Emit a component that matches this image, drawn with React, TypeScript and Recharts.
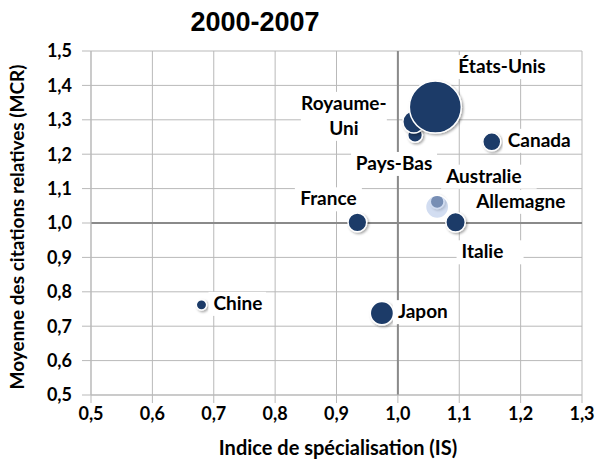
import React from "react";
import {
  ScatterChart, Scatter, XAxis, YAxis, ZAxis, CartesianGrid, ReferenceLine,
} from "recharts";

// drawing order: the big US bubble sits on top of UK / NL, Germany on top of Australia
const countries = ["Pays-Bas", "Royaume-Uni", "États-Unis", "Canada", "Australie", "Allemagne", "Italie", "France", "Chine", "Japon"];
const specialisation = [1.028, 1.026, 1.061, 1.153, 1.064, 1.064, 1.094, 0.934, 0.680, 0.974];
const citations = [1.256, 1.294, 1.337, 1.236, 1.062, 1.047, 1.002, 1.002, 0.762, 0.738];
const publications = [8, 18, 100, 12, 7, 20, 14, 13, 4, 20];

const xTicks = [0.5, 0.6, 0.7, 0.8, 0.9, 1.0, 1.1, 1.2, 1.3];
const yTicks = [0.5, 0.6, 0.7, 0.8, 0.9, 1.0, 1.1, 1.2, 1.3, 1.4, 1.5];

const data = countries.map((name, i) => ({
  name, is: specialisation[i], mcr: citations[i], pubs: publications[i],
}));

// label placement relative to the bubble centre (baseline offset)
const labelPos: Record<string, { dx: number; dy: number; anchor: "start" | "middle" | "end"; lines?: string[] }> = {
  "États-Unis": { dx: 23, dy: -34, anchor: "start" },
  "Royaume-Uni": { dx: -70, dy: -12, anchor: "middle", lines: ["Royaume-", "Uni"] },
  "Pays-Bas": { dx: -21, dy: 35, anchor: "middle" },
  "Canada": { dx: 16, dy: 5, anchor: "start" },
  "Australie": { dx: 9, dy: -19, anchor: "start" },
  "Allemagne": { dx: 39, dy: 1, anchor: "start" },
  "Italie": { dx: 6, dy: 36, anchor: "start" },
  "France": { dx: -29, dy: -17, anchor: "middle" },
  "Chine": { dx: 12, dy: 5, anchor: "start" },
  "Japon": { dx: 16, dy: 5, anchor: "start" },
};

const FONT = "Lato, 'Open Sans', sans-serif";
const NAVY = "#1b3a67";
const fmt = (v: number) => v.toFixed(1).replace(".", ",");

const Bubble = (props: any) => {
  const { cx, cy, width, payload, index } = props;
  const r = width / 2;
  const light = payload.name === "Allemagne";
  const id = `sh${index}`;
  return (
    <g>
      <defs>
        <filter id={id} x="-50%" y="-50%" width="200%" height="200%">
          <feDropShadow dx="1.5" dy="1.5" stdDeviation="1.2" floodColor="#000" floodOpacity="0.35" />
        </filter>
      </defs>
      <circle
        cx={cx} cy={cy} r={r}
        fill={light ? "#b4c7e7" : NAVY}
        fillOpacity={light ? 0.6 : 1}
        stroke="#fff" strokeWidth={1.5}
        filter={light ? undefined : `url(#${id})`}
      />
    </g>
  );
};

const BubbleLabel = (props: any) => {
  const { cx, cy, payload } = props;
  const p = labelPos[payload.name];
  const lines = p.lines ?? [payload.name];
  const fs = 19;
  const lh = 25;
  const w = Math.max(...lines.map((l) => l.length)) * 0.5 * fs;
  const x = cx + p.dx;
  const y = cy + p.dy;
  const left = p.anchor === "start" ? x : p.anchor === "middle" ? x - w / 2 : x - w;
  return (
    <g>
      <rect x={left - 5} y={y - 18} width={w + 10} height={24 + (lines.length - 1) * lh} fill="#fff" />
      {lines.map((l, i) => (
        <text key={l} x={x} y={y + i * lh} textAnchor={p.anchor} fontFamily={FONT} fontWeight={700} fontSize={fs} fill="#000">
          {l}
        </text>
      ))}
    </g>
  );
};

const tickStyle = { fill: "#000", fontSize: 18, fontWeight: 700, fontFamily: FONT };

export default function App() {
  return (
    <div style={{ position: "absolute", left: 0, top: 0, width: 599, height: 464, background: "#fff" }}>
      <div style={{
        position: "absolute", left: 130, top: 9, width: 250, textAlign: "center",
        fontFamily: "'Liberation Sans', Arial, sans-serif", fontWeight: 700, fontSize: 27, lineHeight: "27px",
      }}>
        2000-2007
      </div>
      <ScatterChart width={599} height={464} margin={{ top: 51, right: 17, bottom: 9, left: 0 }}>
        <CartesianGrid stroke="#b9b9b9" strokeWidth={1} />
        <XAxis
          type="number" dataKey="is" domain={[0.5, 1.3]} ticks={xTicks} tickFormatter={fmt}
          height={60} tickSize={8} tickMargin={4} stroke="#b9b9b9" tick={tickStyle}
          interval={0} allowDataOverflow
          label={{
            content: () => (
              <text x={338} y={455} textAnchor="middle" fontFamily={FONT} fontWeight={700} fontSize={20} fill="#000">
                Indice de spécialisation (IS)
              </text>
            ),
          }}
        />
        <YAxis
          type="number" dataKey="mcr" domain={[0.5, 1.5]} ticks={yTicks} tickFormatter={fmt}
          width={91} tickSize={9} tickMargin={10} stroke="#b9b9b9" tick={tickStyle}
          interval={0} allowDataOverflow
          label={{
            content: () => (
              <text x={0} y={0} transform="translate(24, 227) rotate(-90)" textAnchor="middle" fontFamily={FONT} fontWeight={700} fontSize={19} fill="#000">
                Moyenne des citations relatives (MCR)
              </text>
            ),
          }}
        />
        <ZAxis type="number" dataKey="pubs" domain={[0, 100]} range={[0, 2124]} />
        <ReferenceLine x={1} stroke="#8a8a8a" strokeWidth={2} />
        <ReferenceLine y={1} stroke="#8a8a8a" strokeWidth={2} />
        <Scatter data={data} shape={<Bubble />} isAnimationActive={false} />
        <Scatter data={data} shape={<BubbleLabel />} isAnimationActive={false} />
      </ScatterChart>
    </div>
  );
}
